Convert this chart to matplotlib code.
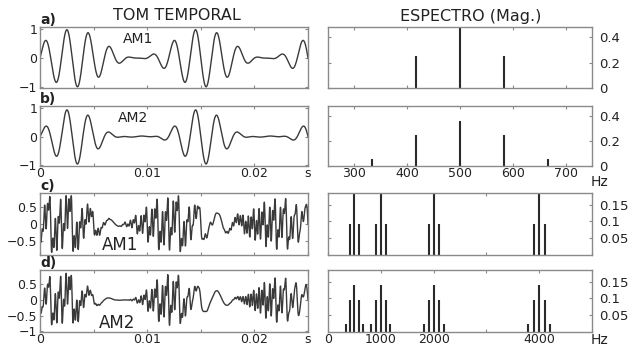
import numpy as np
import matplotlib
matplotlib.use("Agg")
import matplotlib.pyplot as plt

# ---- spectral lines ----
# rows a/b: single 500 Hz tone, modulated at ~83 Hz
freqs_am1_ab = [417, 500, 583]
amps_am1_ab = [0.25, 0.50, 0.25]
freqs_am2_ab = [333, 417, 500, 583, 667]
amps_am2_ab = [0.06, 0.25, 0.36, 0.25, 0.06]

# rows c/d: four tones, each with its own side bands
carriers_cd = [500, 1000, 2000, 4000]
fmod_cd = [83, 90, 95, 105]
side_am1_cd = [0.185, 0.0925]          # carrier, 1st side band
side_am2_cd = [0.14, 0.095, 0.024]     # carrier, 1st, 2nd side band
env_peak_cd = [0.0031, 0.00145, 0.00174, 0.00224]   # envelope maximum (s)
phase_cd = [0.0, np.pi, np.pi, np.pi]

# ticks
t_ticks = [0, 0.005, 0.01, 0.015, 0.02, 0.025]
t_labels = ["0", "", "0.01", "", "0.02", ""]
f_ticks_ab = [300, 400, 500, 600, 700]
f_ticks_cd = [0, 1000, 2000, 3000, 4000, 5000]
f_labels_cd = ["0", "1000", "2000", "", "4000", ""]

t = np.linspace(0, 0.025, 4000)


def signal(carriers, fmods, env_peaks, phases, side):
    """soma das portadoras vezes o envelope, a partir das riscas do espectro"""
    x = np.zeros_like(t)
    for fc, fm, tp, ph in zip(carriers, fmods, env_peaks, phases):
        env = side[0] + sum(2 * a * np.cos(2 * np.pi * (k + 1) * fm * (t - tp))
                            for k, a in enumerate(side[1:]))
        x += env * np.sin(2 * np.pi * fc * t + ph)
    return x


def lines_to_side(freqs, amps):
    mid = len(freqs) // 2
    return [amps[mid]] + list(amps[mid + 1:])


x_a = signal([500], [83.33], [0.0031], [0.0], lines_to_side(freqs_am1_ab, amps_am1_ab))
x_b = signal([500], [83.33], [0.0031], [0.0], lines_to_side(freqs_am2_ab, amps_am2_ab))
x_c = signal(carriers_cd, fmod_cd, env_peak_cd, phase_cd, side_am1_cd)
x_d = signal(carriers_cd, fmod_cd, env_peak_cd, phase_cd, side_am2_cd)


def cd_lines(side):
    fs, am = [], []
    for fc, fm in zip(carriers_cd, fmod_cd):
        fs.append(fc)
        am.append(side[0])
        for k, a in enumerate(side[1:]):
            fs += [fc - (k + 1) * fm, fc + (k + 1) * fm]
            am += [a, a]
    return fs, am


def fmt(v):
    return f"{v:g}".replace("-", "\u2212")


W, H = 638, 348
plt.rcParams['font.family'] = ['DejaVu Sans']
fig = plt.figure(figsize=(W / 100, H / 100), dpi=100)

line_col = '#3a3a3a'
spine_col = '#8a8a8a'
txt_col = '#222222'
tick_fs = 9


def frame(ax):
    for s in ax.spines.values():
        s.set_color(spine_col)
        s.set_linewidth(1.0)
    ax.tick_params(direction='in', top=True, right=True, length=2,
                   color=spine_col, labelsize=tick_fs, pad=2,
                   labelcolor=txt_col)
    ax.tick_params(axis='x', pad=1)


rows = [(27, 88), (106, 166), (193, 255), (270, 332)]


def rect(x0, x1, row):
    y0, y1 = rows[row]
    return [x0 / W, 1 - y1 / H, (x1 - x0) / W, (y1 - y0) / H]


# ---- sinal no tempo ----
time_data = [x_a, x_b, x_c, x_d]
ylims = [(-1.03, 1.07), (-1.03, 1.07), (-0.92, 0.92), (-1.02, 0.95)]
yticks = [[-1, 0, 1], [-1, 0, 1], [-0.5, 0, 0.5], [-1, -0.5, 0, 0.5]]
tags = ["a)", "b)", "c)", "d)"]
names = [("AM1", 0.31, 0.80, 10), ("AM2", 0.29, 0.80, 10),
         ("AM1", 0.23, 0.16, 12), ("AM2", 0.22, 0.15, 12)]

for i in range(4):
    ax = fig.add_axes(rect(40, 308, i))
    ax.plot(t, time_data[i], color=line_col, lw=1.0)
    ax.set_xlim(0, 0.025)
    ax.set_ylim(*ylims[i])
    ax.set_yticks(yticks[i])
    ax.set_yticklabels([fmt(v) for v in yticks[i]])
    ax.set_xticks(t_ticks)
    if i in (1, 3):
        ax.set_xticklabels(t_labels)
        ax.text(1.0, -0.02, "s", transform=ax.transAxes, ha='center', va='top',
                fontsize=tick_fs, color=txt_col)
    else:
        ax.set_xticklabels([])
    frame(ax)
    ax.text(0.0, 1.0, tags[i], transform=ax.transAxes, ha='left', va='bottom',
            fontsize=10, fontweight='bold', color=txt_col)
    nm, nx, ny, fsz = names[i]
    ax.text(nx, ny, nm, transform=ax.transAxes, ha='left', va='center',
            fontsize=fsz, color=txt_col)

# ---- espectro ----
fc_am1, fa_am1 = cd_lines(side_am1_cd)
fc_am2, fa_am2 = cd_lines(side_am2_cd)
spec = [(freqs_am1_ab, amps_am1_ab), (freqs_am2_ab, amps_am2_ab),
        (fc_am1, fa_am1), (fc_am2, fa_am2)]
hz_y = {1: -0.27, 3: -0.13}

for i in range(4):
    ax = fig.add_axes(rect(328, 592, i))
    fs, am = spec[i]
    ax.vlines(fs, 0, am, color='#2a2a2a', lw=1.5)
    if i < 2:
        ax.set_xlim(250, 750)
        ax.set_ylim(0, 0.48)
        ax.set_yticks([0, 0.2, 0.4])
        ax.set_yticklabels(["0", "0.2", "0.4"])
        ax.set_xticks(f_ticks_ab)
        if i == 1:
            ax.set_xticklabels([str(v) for v in f_ticks_ab])
        else:
            ax.set_xticklabels([])
    else:
        ax.set_xlim(0, 5000)
        ax.set_ylim(0, 0.185)
        ax.set_yticks([0.05, 0.1, 0.15])
        ax.set_yticklabels(["0.05", "0.1", "0.15"])
        ax.set_xticks(f_ticks_cd)
        if i == 3:
            ax.set_xticklabels(f_labels_cd)
        else:
            ax.set_xticklabels([])
    ax.yaxis.tick_right()
    frame(ax)
    ax.tick_params(axis='y', left=True, labelleft=False, labelright=True,
                   labelsize=9.5, pad=5)
    if i in hz_y:
        ax.text(0.995, hz_y[i], "Hz", transform=ax.transAxes, ha='left', va='center',
                fontsize=10, color=txt_col)

fig.text(177 / W, 1 - 15 / H, "TOM TEMPORAL", ha='center', va='center',
         fontsize=11.5, color=txt_col)
fig.text(471 / W, 1 - 16 / H, "ESPECTRO (Mag.)", ha='center', va='center',
         fontsize=11.5, color=txt_col)

fig.savefig("out.png", dpi=100)
